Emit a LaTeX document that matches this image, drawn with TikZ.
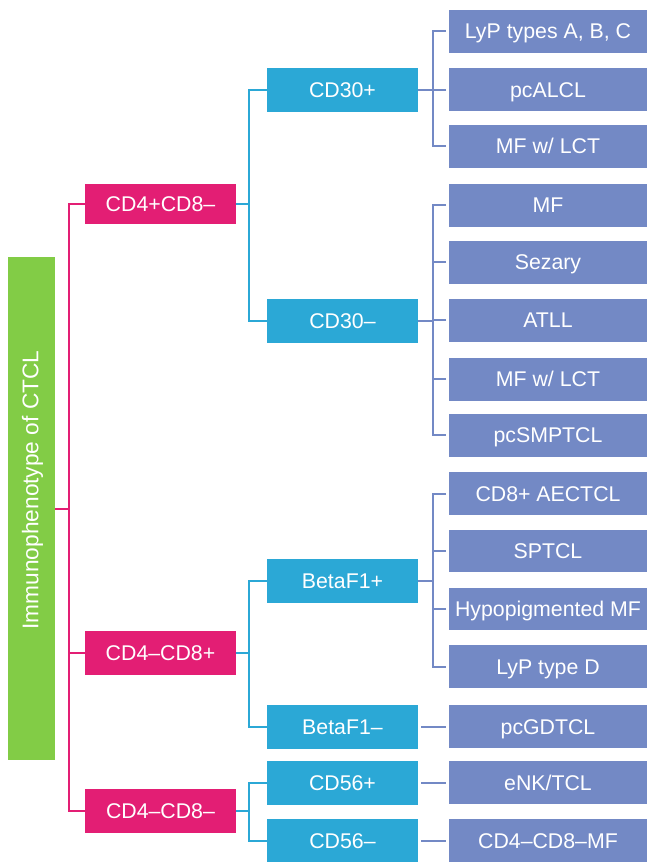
\documentclass[tikz,border=0pt]{standalone}
\usepackage{fontspec}
\setmainfont{Liberation Sans}
\definecolor{cmag}{HTML}{E31E74}
\definecolor{ccyan}{HTML}{2BA8D6}
\definecolor{cblue}{HTML}{7389C5}
\definecolor{cgreen}{HTML}{82CC46}
\begin{document}
\begin{tikzpicture}[x=1pt,y=-1pt,
  box/.style={rectangle, inner sep=0pt, text=white, anchor=center,
    font=\fontsize{21.3}{25}\selectfont, text height=15.3pt, text depth=0pt},
  magbox/.style={box, fill=cmag, minimum width=151pt, minimum height=44pt},
  cyanbox/.style={box, fill=ccyan, minimum width=151pt, minimum height=44pt},
  bluebox/.style={box, fill=cblue, minimum width=198pt, minimum height=42.7pt},
  magline/.style={draw=cmag, line width=2pt},
  cyanline/.style={draw=ccyan, line width=2pt},
  blueline/.style={draw=cblue, line width=2pt}]
\useasboundingbox (0,0) rectangle (647,862);

% root
\node[rectangle, fill=cgreen, minimum width=47pt, minimum height=503pt, inner sep=0pt] (root) at (31.5,508.5) {};
\node[rotate=90, text=white, inner sep=0pt, font=\fontsize{22.7}{26}\selectfont] (roottext) at (32.5,490) {Immunophenotype of CTCL};

% level 1
\node[magbox, minimum height=40pt] (a1) at (160.5,204) {CD4+CD8--};
\node[magbox] (a2) at (160.5,653) {CD4--CD8+};
\node[magbox] (a3) at (160.5,811) {CD4--CD8--};

% level 2
\node[cyanbox] (b1) at (342.5,90.3) {CD30+};
\node[cyanbox] (b2) at (342.5,320.5) {CD30--};
\node[cyanbox] (b3) at (342.5,580.5) {BetaF1+};
\node[cyanbox] (b4) at (342.5,726.5) {BetaF1--};
\node[cyanbox] (b5) at (342.5,782.5) {CD56+};
\node[cyanbox] (b6) at (342.5,840.5) {CD56--};

% level 3
\node[bluebox] (c1) at (548,31.3) {LyP types A, B, C};
\node[bluebox] (c2) at (548,89.7) {pcALCL};
\node[bluebox] (c3) at (548,146.3) {MF w/ LCT};
\node[bluebox] (c4) at (548,205.3) {MF};
\node[bluebox] (c5) at (548,262.3) {Sezary};
\node[bluebox] (c6) at (548,320.3) {ATLL};
\node[bluebox] (c7) at (548,379.3) {MF w/ LCT};
\node[bluebox] (c8) at (548,435.3) {pcSMPTCL};
\node[bluebox] (c9) at (548,493.5) {CD8+ AECTCL};
\node[bluebox] (c10) at (548,551) {SPTCL};
\node[bluebox] (c11) at (548,609) {Hypopigmented MF};
\node[bluebox] (c12) at (548,666.5) {LyP type D};
\node[bluebox] (c13) at (548,726.5) {pcGDTCL};
\node[bluebox] (c14) at (548,782.5) {eNK/TCL};
\node[bluebox] (c15) at (548,840.5) {CD4--CD8--MF};

% bus positions
\coordinate (bx1) at (69,0);
\coordinate (bx2) at (249,0);
\coordinate (bx3) at (433,0);
\coordinate (bs) at (446,0);
\coordinate (bst) at (421,0);

% magenta connectors
\draw[magline] (root.east) -- (root.east -| bx1);
\draw[magline] (a1.west) -- (a1.west -| bx1) -- (a3.west -| bx1) -- (a3.west);
\draw[magline] (a2.west) -- (a2.west -| bx1);

% cyan connectors
\draw[cyanline] (a1.east) -- (a1.east -| bx2);
\draw[cyanline] (b1.west) -- (b1.west -| bx2) -- (b2.west -| bx2) -- (b2.west);
\draw[cyanline] (a2.east) -- (a2.east -| bx2);
\draw[cyanline] (b3.west) -- (b3.west -| bx2) -- (b4.west -| bx2) -- (b4.west);
\draw[cyanline] (a3.east) -- (a3.east -| bx2);
\draw[cyanline] (b5.west) -- (b5.west -| bx2) -- (b6.west -| bx2) -- (b6.west);

% blue connectors
\draw[blueline] (b1.east) -- (b1.east -| bx3);
\draw[blueline] (c1.west -| bs) -- (c1.west -| bx3) -- (c3.west -| bx3) -- (c3.west -| bs);
\draw[blueline] (c2.west -| bs) -- (c2.west -| bx3);

\draw[blueline] (b2.east) -- (b2.east -| bx3);
\draw[blueline] (c4.west -| bs) -- (c4.west -| bx3) -- (c8.west -| bx3) -- (c8.west -| bs);
\foreach \n in {c5,c6,c7} \draw[blueline] (\n.west -| bs) -- (\n.west -| bx3);

\draw[blueline] (b3.east) -- (b3.east -| bx3);
\draw[blueline] (c9.west -| bs) -- (c9.west -| bx3) -- (c12.west -| bx3) -- (c12.west -| bs);
\foreach \n in {c10,c11} \draw[blueline] (\n.west -| bs) -- (\n.west -| bx3);

\draw[blueline] (b4.east -| bst) -- (c13.west -| bs);
\draw[blueline] (b5.east -| bst) -- (c14.west -| bs);
\draw[blueline] (b6.east -| bst) -- (c15.west -| bs);
\end{tikzpicture}
\end{document}
